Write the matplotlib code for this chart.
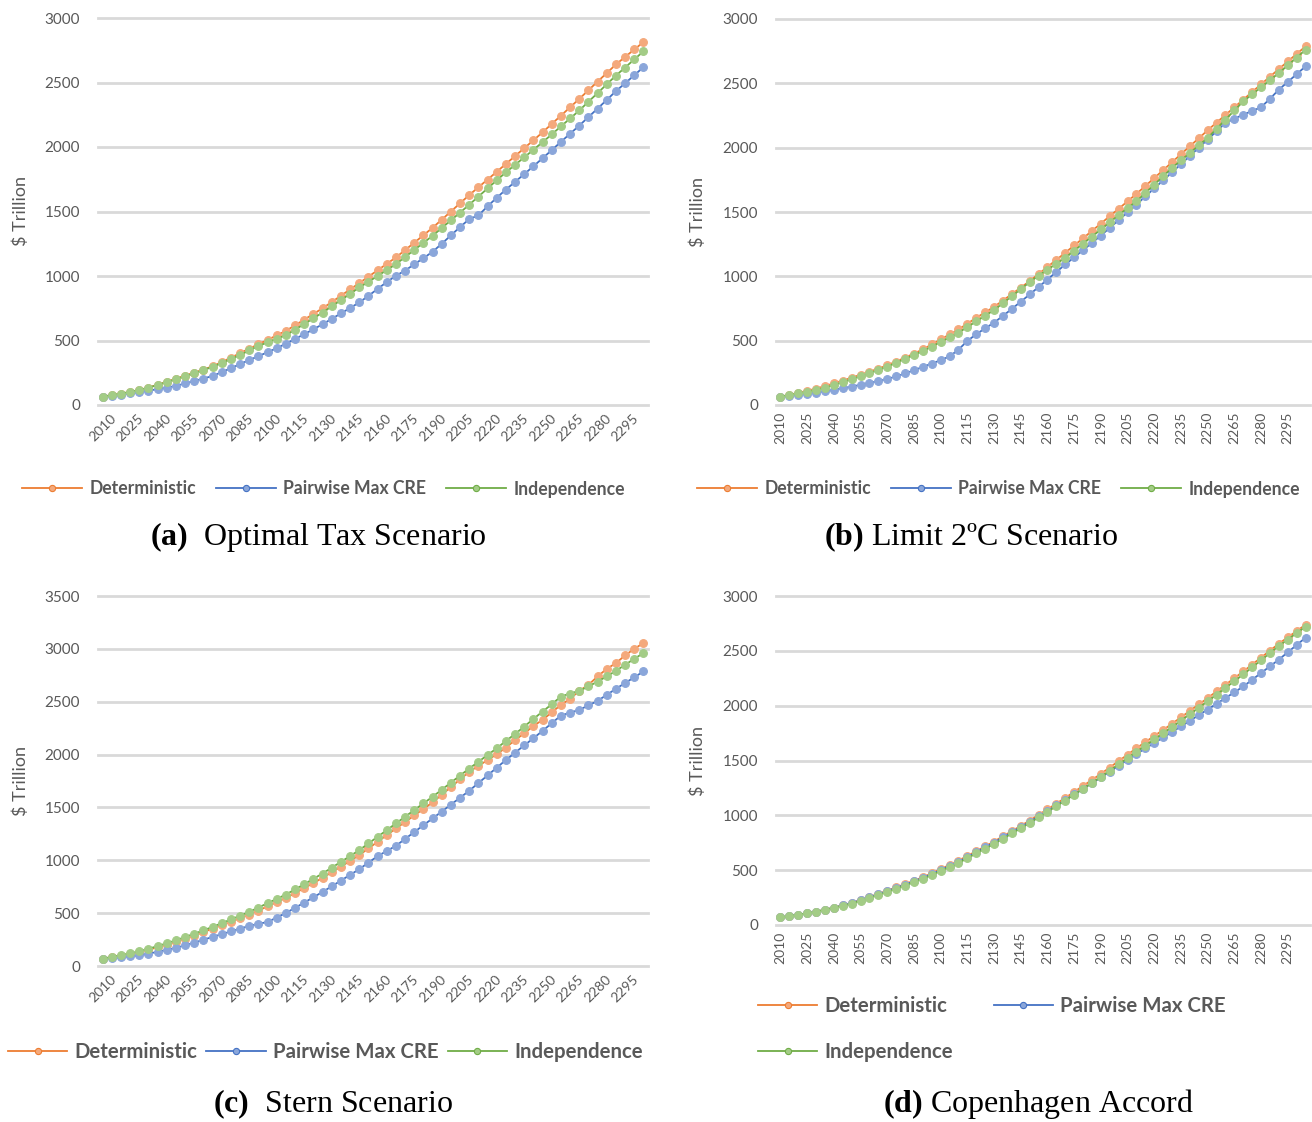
import matplotlib
matplotlib.use("Agg")
from matplotlib import pyplot as plt
import numpy as np

plt.rcParams['font.family'] = ['Lato', 'DejaVu Sans']
plt.rcParams['mathtext.fontset'] = 'custom'
plt.rcParams['mathtext.rm'] = 'Liberation Serif'
plt.rcParams['mathtext.bf'] = 'Liberation Serif:bold'

years = list(range(2010, 2306, 5))
series_names = ['Deterministic', 'Pairwise Max CRE', 'Independence']

# (a) Optimal Tax Scenario
a_det = [65, 76, 88, 101, 116, 135, 157, 180, 204, 228, 251, 275, 300, 333, 367, 402, 437, 471, 505, 540,
         575, 618, 662, 706, 750, 798, 847, 896, 945, 995, 1044, 1094, 1144, 1201, 1258, 1316, 1374, 1437, 1500, 1564,
         1628, 1688, 1748, 1808, 1869, 1930, 1991, 2052, 2114, 2179, 2243, 2308, 2373, 2440, 2507, 2573, 2640, 2698, 2756, 2813]
a_pmc = [65, 72, 80, 90, 101, 111, 123, 135, 148, 167, 186, 205, 225, 255, 285, 317, 349, 378, 410, 440,
         476, 512, 549, 587, 626, 668, 710, 752, 795, 846, 900, 953, 1002, 1042, 1091, 1138, 1188, 1250, 1315, 1380,
         1441, 1470, 1540, 1607, 1670, 1730, 1790, 1851, 1913, 1976, 2040, 2103, 2166, 2232, 2298, 2365, 2433, 2494, 2556, 2619]
a_ind = [65, 76, 88, 101, 116, 134, 155, 177, 199, 222, 245, 270, 296, 325, 355, 388, 423, 458, 485, 513,
         541, 584, 628, 672, 717, 765, 813, 862, 911, 955, 1000, 1046, 1092, 1147, 1202, 1257, 1312, 1372, 1432, 1492,
         1553, 1616, 1679, 1742, 1804, 1862, 1920, 1979, 2037, 2098, 2160, 2221, 2283, 2351, 2418, 2486, 2554, 2616, 2679, 2741]

# (b) Limit 2oC Scenario
b_det = [65, 79, 94, 110, 127, 147, 168, 190, 212, 235, 258, 283, 308, 338, 368, 400, 432, 471, 510, 548,
         587, 632, 678, 720, 763, 812, 862, 912, 963, 1018, 1073, 1128, 1183, 1240, 1296, 1353, 1410, 1468, 1525, 1583,
         1641, 1702, 1764, 1825, 1887, 1949, 2011, 2073, 2135, 2195, 2254, 2314, 2373, 2433, 2492, 2552, 2611, 2670, 2728, 2787]
b_pmc = [65, 72, 80, 88, 97, 107, 118, 130, 143, 157, 171, 186, 202, 222, 245, 270, 296, 322, 348, 378,
         430, 498, 550, 596, 640, 693, 747, 803, 859, 917, 975, 1034, 1092, 1148, 1204, 1260, 1317, 1377, 1437, 1498,
         1558, 1621, 1684, 1746, 1809, 1872, 1936, 2000, 2063, 2128, 2192, 2225, 2257, 2285, 2314, 2380, 2451, 2511, 2571, 2632]
b_ind = [65, 77, 90, 102, 114, 134, 155, 177, 199, 223, 247, 272, 298, 328, 358, 388, 419, 454, 490, 526,
         562, 606, 650, 694, 738, 792, 846, 900, 955, 1005, 1052, 1098, 1144, 1199, 1254, 1309, 1364, 1420, 1476, 1531,
         1584, 1648, 1713, 1778, 1843, 1901, 1959, 2018, 2076, 2147, 2218, 2289, 2360, 2415, 2470, 2525, 2580, 2640, 2700, 2761]

# (c) Stern Scenario
c_det = [69, 84, 99, 115, 133, 154, 177, 201, 227, 257, 288, 320, 354, 386, 419, 452, 486, 525, 564, 604,
         644, 690, 737, 785, 834, 887, 940, 994, 1049, 1112, 1175, 1238, 1301, 1362, 1424, 1486, 1548, 1620, 1693, 1765,
         1838, 1893, 1948, 2004, 2066, 2138, 2201, 2271, 2328, 2400, 2470, 2527, 2603, 2659, 2739, 2811, 2865, 2938, 3001, 3054]
c_pmc = [69, 75, 83, 91, 101, 117, 134, 152, 171, 196, 221, 248, 275, 301, 327, 353, 379, 398, 417, 458,
         502, 550, 600, 650, 701, 754, 808, 862, 916, 978, 1039, 1088, 1137, 1202, 1267, 1332, 1396, 1461, 1527, 1592,
         1658, 1731, 1803, 1876, 1949, 2018, 2087, 2155, 2224, 2297, 2369, 2396, 2423, 2465, 2508, 2565, 2622, 2677, 2731, 2786]
c_ind = [69, 85, 102, 120, 139, 163, 188, 215, 243, 274, 305, 337, 370, 405, 440, 476, 512, 553, 594, 635,
         676, 725, 774, 825, 875, 930, 985, 1040, 1096, 1159, 1222, 1285, 1349, 1412, 1475, 1538, 1601, 1667, 1735, 1802,
         1868, 1932, 1996, 2059, 2129, 2195, 2265, 2337, 2407, 2476, 2549, 2577, 2603, 2644, 2691, 2739, 2792, 2849, 2906, 2960]

# (d) Copenhagen Accord
d_det = [70, 82, 94, 108, 122, 140, 159, 180, 201, 228, 256, 284, 313, 343, 373, 404, 435, 472, 510, 548,
         587, 630, 673, 717, 761, 809, 856, 904, 952, 1004, 1055, 1107, 1159, 1214, 1268, 1323, 1378, 1436, 1495, 1553,
         1612, 1668, 1724, 1779, 1835, 1894, 1952, 2011, 2069, 2130, 2190, 2251, 2312, 2375, 2438, 2502, 2565, 2623, 2680, 2738]
d_pmc = [70, 82, 93, 107, 121, 139, 158, 178, 199, 226, 253, 280, 308, 338, 368, 398, 428, 465, 501, 538,
         575, 619, 663, 708, 752, 799, 846, 893, 940, 990, 1040, 1090, 1140, 1191, 1242, 1294, 1345, 1399, 1452, 1506,
         1560, 1610, 1660, 1710, 1760, 1811, 1862, 1914, 1965, 2017, 2070, 2122, 2175, 2236, 2298, 2359, 2420, 2487, 2553, 2620]
d_ind = [70, 81, 93, 106, 120, 138, 156, 175, 195, 221, 247, 273, 300, 330, 360, 390, 420, 456, 492, 528,
         565, 609, 653, 696, 740, 787, 835, 882, 930, 981, 1032, 1084, 1135, 1189, 1242, 1296, 1350, 1408, 1465, 1522,
         1580, 1636, 1692, 1749, 1805, 1864, 1922, 1981, 2040, 2101, 2162, 2224, 2285, 2350, 2415, 2480, 2545, 2603, 2662, 2720]

line_colors = ['#ED7D31', '#4472C4', '#70AD47']
marker_colors = ['#F4A97C', '#8AA6DA', '#A3CC86']
gray = '#595959'

W, H = 1312, 1122
fig = plt.figure(figsize=(W / 100, H / 100), dpi=100)


def px_axes(l, t, r, b):
    return fig.add_axes([l / W, 1 - b / H, (r - l) / W, (b - t) / H])


def draw_panel(box, data, ymax, rot, ylab_x, caption, cap_xy, leg_xy, ncol, leg):
    ax = px_axes(*box)
    x = np.arange(len(years))
    for vals, lc, mc, name in zip(data, line_colors, marker_colors, series_names):
        ax.plot(x, vals, '-o', color=lc, lw=1.3, ms=5.6, mfc=mc, mec=mc, mew=0.8, label=name)
    ax.set_xlim(-0.5, len(years) - 0.5)
    ax.set_ylim(0, ymax)
    ax.set_yticks(range(0, ymax + 1, 500))
    ax.set_xticks(x[::3])
    ax.set_xticklabels([str(y) for y in years[::3]], rotation=rot)
    ax.tick_params(axis='x', length=0, pad=5, labelsize=10, labelcolor=gray)
    ax.tick_params(axis='y', length=0, pad=13, labelsize=11, labelcolor=gray)
    ax.grid(axis='y', color='#D9D9D9', lw=2)
    ax.set_axisbelow(True)
    for gl in ax.get_ygridlines():
        gl.set_clip_on(False)
    for s in ax.spines.values():
        s.set_visible(False)
    ax.set_ylabel('$ Trillion', fontsize=13, color=gray)
    ax.yaxis.set_label_coords((ylab_x + 9 - box[0]) / (box[2] - box[0]), 0.5)

    lines = ax.get_lines()
    if ncol == 2:
        lines = [lines[0], lines[2], lines[1]]
    fs, hl, tp, cs, ls = leg
    lg = fig.legend(handles=lines, loc='center left',
                    bbox_to_anchor=(leg_xy[0] / W, 1 - leg_xy[1] / H), ncol=ncol, frameon=False,
                    prop={'weight': 'bold', 'size': fs}, labelcolor=gray, handlelength=hl,
                    handletextpad=tp, columnspacing=cs, labelspacing=ls, borderaxespad=0,
                    borderpad=0, markerscale=0.8)
    for h, lc in zip(lg.legend_handles, [l.get_color() for l in lines]):
        h.set_markeredgecolor(lc)
    fig.text(cap_xy[0] / W, 1 - cap_xy[1] / H, caption, ha='center', va='center',
             fontsize=23, family='Liberation Serif')
    return ax


draw_panel((98, 18, 648, 405), [a_det, a_pmc, a_ind], 3000, 45, 20,
           r'$\mathbf{(a)}$  Optimal Tax Scenario', (318, 537), (22, 489), 3,
           (12.7, 3.4, 0.45, 1.08, 1.0))
draw_panel((776, 19, 1310, 405), [b_det, b_pmc, b_ind], 3000, 90, 697,
           r'$\mathbf{(b)}$ Limit 2ºC Scenario', (971, 537), (697, 489), 3,
           (12.7, 3.4, 0.45, 1.08, 1.0))
draw_panel((98, 596, 648, 966), [c_det, c_pmc, c_ind], 3500, 45, 20,
           r'$\mathbf{(c)}$  Stern Scenario', (333, 1104), (8, 1052), 3,
           (14.7, 2.9, 0.35, 0.45, 1.0))
draw_panel((776, 596, 1310, 925), [d_det, d_pmc, d_ind], 3000, 90, 697,
           r'$\mathbf{(d)}$ Copenhagen Accord', (1038, 1104), (758, 1029), 2,
           (14.7, 2.9, 0.35, 2.0, 1.25))

fig.savefig('out.png', dpi=100)
